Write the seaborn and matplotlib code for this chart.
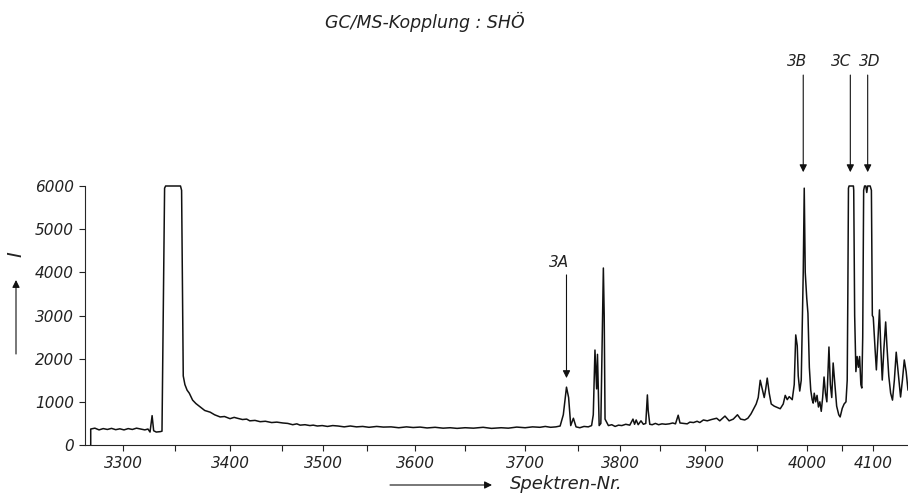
import matplotlib
matplotlib.use("Agg")
import matplotlib.pyplot as plt
import seaborn as sns
import numpy as np

# ----- Daten -----
spektren = [
    3269, 3269, 3273, 3277, 3281, 3285, 3289, 3293, 3297, 3301, 3305, 3309, 3313, 3317, 3321, 3324,
    3326, 3328, 3329.5, 3332, 3336, 3337.5, 3340, 3341, 3355, 3356, 3357.5, 3359, 3361, 3363, 3366,
    3369, 3373, 3377, 3382, 3386, 3391, 3395, 3400, 3404, 3407, 3412, 3416, 3419, 3424, 3429, 3434,
    3440, 3445, 3451, 3457, 3463, 3468, 3472, 3478, 3484, 3488, 3493, 3499, 3505, 3511, 3517, 3524,
    3531, 3538, 3545, 3552, 3560, 3567, 3575, 3583, 3591, 3598, 3605, 3612, 3620, 3628, 3635, 3642,
    3650, 3657, 3665, 3672, 3680, 3686, 3693, 3700, 3707, 3714, 3719, 3724, 3729, 3733, 3736, 3739,
    3741, 3743, 3745.5, 3748, 3752, 3757, 3762, 3766, 3768, 3770, 3772, 3773, 3775, 3777, 3779, 3780,
    3781, 3782, 3786, 3790, 3794, 3798, 3802, 3807, 3812, 3816, 3818, 3820, 3822.5, 3826, 3829, 3832,
    3834, 3835, 3837, 3840, 3844, 3848, 3852, 3856, 3860, 3864, 3867, 3870, 3872, 3876, 3880, 3883,
    3887, 3891, 3894, 3898, 3902, 3906, 3911, 3914, 3919, 3923, 3927, 3931, 3934, 3938, 3941, 3944,
    3946, 3949, 3951, 3953, 3955, 3957, 3958.5, 3960, 3962, 3964, 3967, 3970, 3973, 3976, 3978, 3980,
    3982, 3985, 3987, 3988.5, 3990, 3991, 3992.5, 3994, 3996, 3997, 3998, 3999.5, 4001, 4003, 4005,
    4007, 4008.5, 4010, 4012, 4014, 4016, 4018, 4020, 4022, 4024, 4026, 4028, 4031, 4033, 4035, 4037,
    4039, 4042, 4045, 4047, 4050, 4053, 4056, 4058, 4059, 4060, 4061, 4068, 4068.5, 4070, 4072, 4074,
    4076, 4078, 4080, 4081.5, 4083, 4084.5, 4086, 4088, 4089.5, 4091, 4095, 4097, 4098.5, 4100, 4103,
    4105, 4108, 4110, 4112, 4114.5, 4117, 4120, 4122, 4125, 4128, 4131, 4134, 4137, 4140, 4144, 4147,
    4150, 4153, 4156,
]
intensitaet = [
    0, 370, 390, 350, 380, 360, 385, 355, 375, 350, 380, 360, 390, 370, 350, 370,
    300, 680, 330, 300, 310, 320, 5950, 6000, 6000, 5900, 1600, 1400, 1270, 1200, 1040,
    960, 880, 800, 760, 700, 650, 660, 610, 640, 620, 590, 600, 560, 570, 540, 550,
    520, 530, 510, 500, 470, 490, 460, 470, 450, 460, 440, 450, 430, 450, 440, 420,
    440, 420, 430, 410, 430, 415, 420, 400, 420, 405, 415, 395, 410, 390, 400, 385,
    400, 390, 410, 385, 400, 390, 415, 400, 420, 410, 430, 410, 420, 440, 700, 1340,
    1100, 450, 620, 420, 400, 430, 420, 450, 700, 2200, 1300, 2100, 450, 500, 2800, 4100,
    3000, 600, 450, 470, 430, 460, 450, 480, 460, 600, 480, 580, 470, 560, 480, 500,
    1160, 800, 480, 470, 500, 470, 490, 480, 490, 510, 490, 690, 510, 500, 490, 530,
    520, 550, 520, 580, 560, 590, 620, 560, 670, 560, 600, 700, 600, 580, 620, 720,
    810, 950, 1100, 1500, 1300, 1100, 1300, 1550, 1200, 950, 900, 870, 840, 950, 1150, 1050,
    1120, 1050, 1400, 2550, 2300, 1600, 1250, 1500, 4000, 5950, 4000, 3400, 3050, 1800, 1270,
    1050, 970, 1200, 1000, 1150, 880, 1000, 780, 1100, 1575, 1200, 1000, 2270, 1400, 1100, 1900,
    1500, 900, 700, 650, 850, 950, 1000, 1500, 3500, 5950, 6000, 6000, 5900, 3000, 1700, 2050,
    1800, 2050, 1400, 1320, 2500, 5900, 6000, 6000, 5850, 6000, 6000, 5900, 3000, 2960, 2200,
    1740, 2600, 3130, 2300, 1505, 2200, 2850, 2300, 1600, 1200, 1040, 1500, 2150, 1700, 1112, 1500,
    1970, 1700, 1270,
]

# markierte Komponenten
marken = ["3A", "3B", "3C", "3D"]
marken_spektrum = [3739, 3996, 4063, 4091]
marken_text_x = [3732, 3990, 4048, 4095]
pfeil_spitze = [1550, 6320, 6320, 6320]
pfeil_ende = [3940, 8570, 8570, 8570]
text_hoehe = [4220, 8880, 8880, 8880]

x_ticks = [3300, 3400, 3500, 3600, 3700, 3800, 3900, 4000, 4100]
x_minor = [3350, 3450, 3550, 3650, 3750, 3850, 3950, 4050]
y_ticks = [0, 1000, 2000, 3000, 4000, 5000, 6000]

# ungleichmäßige Spektrenskala des Originals (Spektren-Nr. -> Schreiberposition)
skala_spek = [3200, 3250, 3300, 3350, 3400, 3450, 3500, 3550, 3600, 3650, 3700,
              3750, 3800, 3850, 3900, 3950, 4000, 4050, 4100, 4200]
skala_pos = [19, 71, 123, 175, 230, 282, 323, 367, 415, 465, 525,
             578, 620, 660, 705, 757, 807, 842, 873, 935]


def vor(s):
    return np.interp(s, skala_spek, skala_pos)


def zurueck(p):
    return np.interp(p, skala_pos, skala_spek)


sns.set_style("ticks")
plt.rcParams["font.family"] = ["DejaVu Sans"]

fig = plt.figure(figsize=(9.08, 4.94), dpi=100)
W, H = 908, 494
ax = fig.add_axes([85 / W, (H - 445) / H, (908 - 85) / W, (445 - 186) / H])
ax.set_xscale("function", functions=(vor, zurueck))

sns.lineplot(x=spektren, y=intensitaet, estimator=None, sort=False,
             color="#111111", lw=1.1, ax=ax)
for l in ax.lines:
    l.set_clip_on(False)

ax.set_xlim(3263.5, 4156)
ax.set_ylim(0, 6000)
ax.set_xticks(x_ticks)
ax.set_xticklabels([str(t) for t in x_ticks])
ax.set_xticks(x_minor, minor=True)
ax.set_yticks(y_ticks)
ax.set_yticklabels([str(t) for t in y_ticks])
ax.tick_params(axis="both", which="both", direction="out", length=4, width=0.8,
               labelsize=11, pad=4, color="#222222")
for lab in ax.get_xticklabels() + ax.get_yticklabels():
    lab.set_fontstyle("italic")
    lab.set_color("#222222")

sns.despine(ax=ax)
ax.spines["left"].set_linewidth(0.8)
ax.spines["bottom"].set_linewidth(0.8)
ax.set_xlabel("")
ax.set_ylabel("")

# Pfeile und Bezeichnungen der Komponenten
for m, xs, xt, tip, top, th in zip(marken, marken_spektrum, marken_text_x,
                                   pfeil_spitze, pfeil_ende, text_hoehe):
    ax.annotate("", xy=(xs, tip), xytext=(xs, top), annotation_clip=False,
                arrowprops=dict(arrowstyle="-|>", color="#111111", lw=0.8,
                                mutation_scale=11, shrinkA=0, shrinkB=0))
    ax.text(xt, th, m, ha="center", va="center", fontsize=11, fontstyle="italic",
            color="#222222", clip_on=False)

# Titel und Achsenbeschriftungen
fig.text(425 / W, 1 - 22 / H, "GC/MS-Kopplung : SHÖ", ha="center", va="center",
         fontsize=12.5, fontstyle="italic", color="#222222")
fig.text(510 / W, 1 - 484 / H, "Spektren-Nr.", ha="left", va="center",
         fontsize=13, fontstyle="italic", color="#222222")
ax.annotate("", xy=(492 / W, 1 - 485 / H), xytext=(390 / W, 1 - 485 / H),
            xycoords="figure fraction", textcoords="figure fraction",
            arrowprops=dict(arrowstyle="-|>", color="#111111", lw=0.8,
                            mutation_scale=11, shrinkA=0, shrinkB=0))
fig.text(16 / W, 1 - 254 / H, "I", ha="center", va="center", rotation=90,
         fontsize=14, fontstyle="italic", color="#222222")
ax.annotate("", xy=(16 / W, 1 - 280 / H), xytext=(16 / W, 1 - 354 / H),
            xycoords="figure fraction", textcoords="figure fraction",
            arrowprops=dict(arrowstyle="-|>", color="#111111", lw=0.8,
                            mutation_scale=11, shrinkA=0, shrinkB=0))

fig.savefig("out.png", dpi=100, facecolor="white")
plt.close(fig)
